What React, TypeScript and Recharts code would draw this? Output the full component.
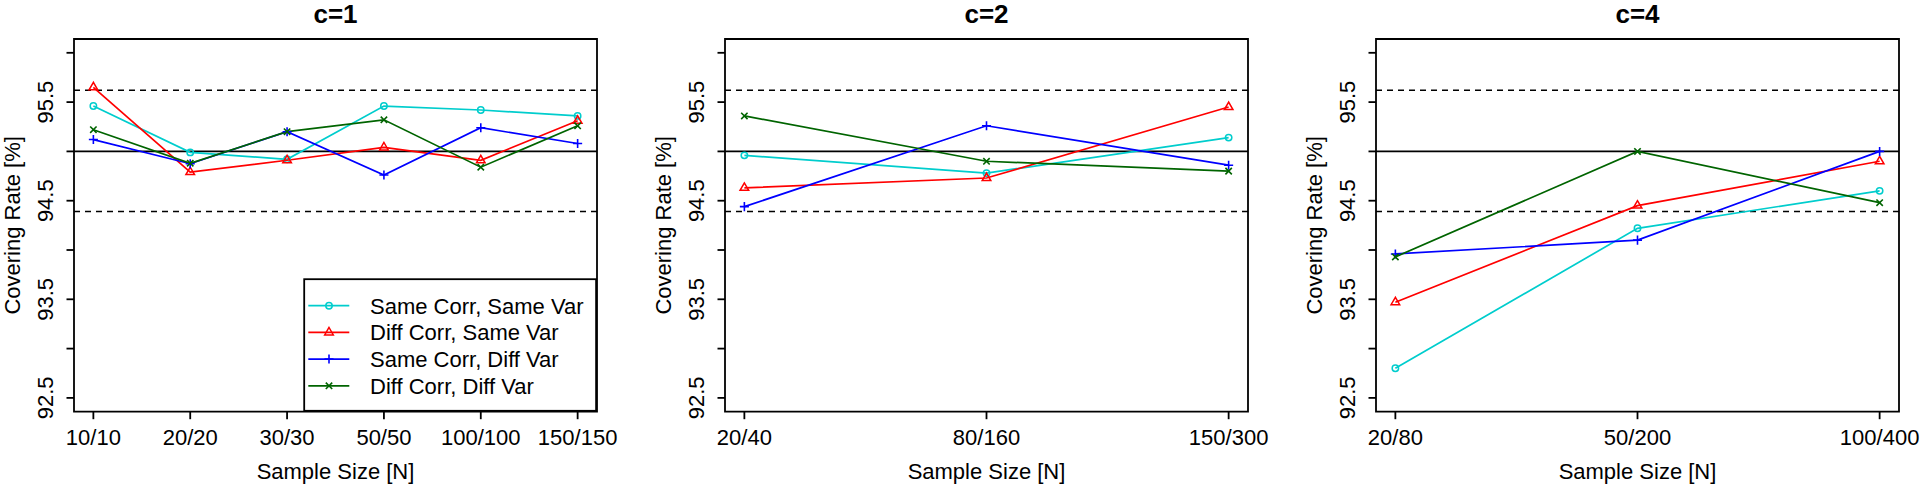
import { LineChart, Line, XAxis, YAxis, ReferenceLine, ReferenceArea } from 'recharts'

const FONT = '"Liberation Sans", Arial, Helvetica, sans-serif'

// series, in drawing and legend order
const seriesNames = ['Same Corr, Same Var', 'Diff Corr, Same Var', 'Same Corr, Diff Var', 'Diff Corr, Diff Var']
const seriesColors = ['#00cdcd', '#ff0000', '#0000ff', '#006400']
const seriesShapes = ['circle', 'triangle', 'plus', 'cross']

// c = 1
const sizesC1 = ['10/10', '20/20', '30/30', '50/50', '100/100', '150/150']
const c1SameCorrSameVar = [95.46, 94.99, 94.92, 95.46, 95.42, 95.36]
const c1DiffCorrSameVar = [95.65, 94.79, 94.91, 95.04, 94.91, 95.31]
const c1SameCorrDiffVar = [95.12, 94.875, 95.2, 94.76, 95.24, 95.08]
const c1DiffCorrDiffVar = [95.22, 94.88, 95.2, 95.32, 94.84, 95.26]

// c = 2
const sizesC2 = ['20/40', '80/160', '150/300']
const c2SameCorrSameVar = [94.96, 94.78, 95.14]
const c2DiffCorrSameVar = [94.63, 94.73, 95.45]
const c2SameCorrDiffVar = [94.44, 95.26, 94.86]
const c2DiffCorrDiffVar = [95.36, 94.9, 94.8]

// c = 4
const sizesC4 = ['20/80', '50/200', '100/400']
const c4SameCorrSameVar = [92.8, 94.22, 94.6]
const c4DiffCorrSameVar = [93.47, 94.45, 94.9]
const c4SameCorrDiffVar = [93.96, 94.1, 95.0]
const c4DiffCorrDiffVar = [93.93, 95.0, 94.48]

// y axis
const yTicks = [92.5, 93, 93.5, 94, 94.5, 95, 95.5, 96]
const yLabelled = [92.5, 93.5, 94.5, 95.5]
const nominal = 95
const bandUpper = 95.62
const bandLower = 94.39

const panels = [
  { title: 'c=1', sizes: sizesC1, values: [c1SameCorrSameVar, c1DiffCorrSameVar, c1SameCorrDiffVar, c1DiffCorrDiffVar], legend: true },
  { title: 'c=2', sizes: sizesC2, values: [c2SameCorrSameVar, c2DiffCorrSameVar, c2SameCorrDiffVar, c2DiffCorrDiffVar], legend: false },
  { title: 'c=4', sizes: sizesC4, values: [c4SameCorrSameVar, c4DiffCorrSameVar, c4SameCorrDiffVar, c4DiffCorrDiffVar], legend: false },
]

const PANEL_W = 651
const H = 485
const Y_AXIS_W = 74
const RIGHT = 54
const TOP = 39
const X_AXIS_H = 73.3
const PLOT_W = PANEL_W - Y_AXIS_W - RIGHT
const LW = 1.7

// R-style point symbols
function Marker({ shape, color, cx, cy }: { shape: string; color: string; cx: number; cy: number }) {
  const r = 3.2
  if (shape === 'circle') return <circle cx={cx} cy={cy} r={r} fill="none" stroke={color} strokeWidth={1.5} />
  if (shape === 'triangle') {
    const top = 1.555 * r, half = 1.347 * r, base = 0.778 * r
    return (
      <polygon
        points={`${cx},${cy - top} ${cx - half},${cy + base} ${cx + half},${cy + base}`}
        fill="none"
        stroke={color}
        strokeWidth={1.5}
      />
    )
  }
  if (shape === 'plus') {
    const d = 1.414 * r
    return (
      <path d={`M${cx - d},${cy}H${cx + d}M${cx},${cy - d}V${cy + d}`} stroke={color} strokeWidth={1.6} fill="none" />
    )
  }
  return (
    <path
      d={`M${cx - r},${cy - r}L${cx + r},${cy + r}M${cx - r},${cy + r}L${cx + r},${cy - r}`}
      stroke={color}
      strokeWidth={1.6}
      fill="none"
    />
  )
}

function Panel({ title, sizes, values, legend }: (typeof panels)[number]) {
  const n = sizes.length
  const data = sizes.map((s, i) => {
    const row: Record<string, number | string> = { x: i + 1, size: s }
    values.forEach((v, k) => (row[`s${k}`] = v[i]))
    return row
  })
  const xPad = (n - 1) * 0.04
  const yPad = (yTicks[yTicks.length - 1] - yTicks[0]) * 0.04
  const xDomain = [1 - xPad, n + xPad]
  const yDomain = [yTicks[0] - yPad, yTicks[yTicks.length - 1] + yPad]

  const legendW = 293.7
  const legendH = 133.4
  const legendLeft = Y_AXIS_W + PLOT_W - legendW
  const legendTop = H - X_AXIS_H - legendH

  return (
    <div style={{ position: 'relative', width: PANEL_W, height: H }}>
      <LineChart width={PANEL_W} height={H} data={data} margin={{ top: TOP, right: RIGHT, bottom: 0, left: 0 }}>
        <XAxis
          type="number"
          dataKey="x"
          domain={xDomain}
          ticks={sizes.map((_, i) => i + 1)}
          interval={0}
          allowDataOverflow
          height={X_AXIS_H}
          axisLine={false}
          tickSize={7.5}
          tickMargin={25.8}
          tickLine={{ stroke: '#000', strokeWidth: 1.8 }}
          tick={(p: any) => (
            <text x={p.x} y={p.y} textAnchor="middle" fontFamily={FONT} fontSize={22} fill="#000">
              {sizes[Math.round(p.payload.value) - 1]}
            </text>
          )}
          label={{
            value: 'Sample Size [N]',
            content: (p: any) => (
              <text
                x={p.viewBox.x + p.viewBox.width / 2}
                y={p.viewBox.y + 67}
                textAnchor="middle"
                fontFamily={FONT}
                fontSize={22}
                fill="#000"
              >
                Sample Size [N]
              </text>
            ),
          }}
        />
        <YAxis
          type="number"
          domain={yDomain}
          ticks={yTicks}
          interval={0}
          allowDataOverflow
          width={Y_AXIS_W}
          axisLine={false}
          tickSize={7.5}
          tickMargin={13.5}
          tickLine={{ stroke: '#000', strokeWidth: 1.8 }}
          tick={(p: any) =>
            yLabelled.some((v) => Math.abs(v - p.payload.value) < 1e-6) ? (
              <text
                x={p.x}
                y={p.y}
                transform={`rotate(-90 ${p.x} ${p.y})`}
                textAnchor="middle"
                fontFamily={FONT}
                fontSize={22}
                fill="#000"
              >
                {p.payload.value.toFixed(1)}
              </text>
            ) : (
              <g />
            )
          }
          label={{
            value: 'Covering Rate [%]',
            content: (p: any) => {
              const x = p.viewBox.x + 20
              const y = p.viewBox.y + p.viewBox.height / 2
              return (
                <text x={x} y={y} transform={`rotate(-90 ${x} ${y})`} textAnchor="middle" fontFamily={FONT} fontSize={22} fill="#000">
                  Covering Rate [%]
                </text>
              )
            },
          }}
        />
        <ReferenceLine y={nominal} stroke="#000" strokeWidth={1.7} />
        <ReferenceLine y={bandUpper} stroke="#000" strokeWidth={1.6} strokeDasharray="6 5" />
        <ReferenceLine y={bandLower} stroke="#000" strokeWidth={1.6} strokeDasharray="6 5" />
        {seriesNames.map((name, k) => (
          <Line
            key={name}
            name={name}
            dataKey={`s${k}`}
            type="linear"
            stroke={seriesColors[k]}
            strokeWidth={LW}
            isAnimationActive={false}
            activeDot={false}
            dot={(p: any) => (
              <Marker key={`${k}-${p.index}`} shape={seriesShapes[k]} color={seriesColors[k]} cx={p.cx} cy={p.cy} />
            )}
          />
        ))}
        <ReferenceArea
          x1={xDomain[0]}
          x2={xDomain[1]}
          y1={yDomain[0]}
          y2={yDomain[1]}
          fill="none"
          fillOpacity={0}
          stroke="#000"
          strokeWidth={1.8}
        />
      </LineChart>
      <svg width={PANEL_W} height={H} style={{ position: 'absolute', left: 0, top: 0, pointerEvents: 'none' }}>
        <text
          x={Y_AXIS_W + PLOT_W / 2}
          y={23}
          textAnchor="middle"
          fontFamily={FONT}
          fontSize={26}
          fontWeight="bold"
          fill="#000"
        >
          {title}
        </text>
        {legend && (
          <g transform={`translate(${legendLeft},${legendTop})`}>
            <rect x={0.9} y={0.9} width={legendW - 1.8} height={legendH - 1.8} fill="#fff" stroke="#000" strokeWidth={1.8} />
            {seriesNames.map((name, k) => {
              const cy = 27.4 + k * 26.7
              return (
                <g key={name}>
                  <line x1={5} x2={46} y1={cy} y2={cy} stroke={seriesColors[k]} strokeWidth={LW} />
                  <Marker shape={seriesShapes[k]} color={seriesColors[k]} cx={25.7} cy={cy} />
                  <text x={66.7} y={cy + 7.9} fontFamily={FONT} fontSize={22} fill="#000">
                    {name}
                  </text>
                </g>
              )
            })}
          </g>
        )}
      </svg>
    </div>
  )
}

export default function App() {
  return (
    <div
      style={{
        position: 'absolute',
        left: 0,
        top: 0,
        width: 1920,
        height: H,
        overflow: 'hidden',
        background: '#fff',
        display: 'flex',
      }}
    >
      {panels.map((p) => (
        <div key={p.title} style={{ flex: '0 0 auto', width: PANEL_W }}>
          <Panel {...p} />
        </div>
      ))}
    </div>
  )
}
